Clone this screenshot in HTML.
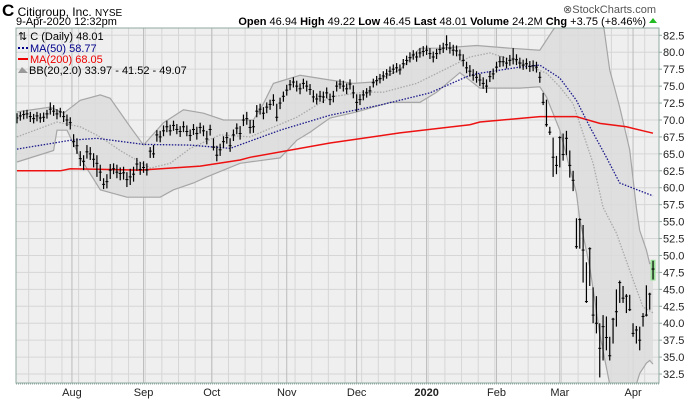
<!DOCTYPE html>
<html><head><meta charset="utf-8"><style>
body{margin:0;background:#fff;width:700px;height:400px;overflow:hidden;font-family:"Liberation Sans",sans-serif}
svg{display:block}
text{font-family:"Liberation Sans",sans-serif}
</style></head><body>
<svg id="chart" width="700" height="400" xmlns="http://www.w3.org/2000/svg">
<rect x="16" y="28" width="643" height="355" fill="#efefef"/>
<g id="grid"></g>
<g id="bands" clip-path="url(#clip)"></g>
<g id="lines" clip-path="url(#clip)"></g>
<g id="bars" clip-path="url(#clip)"></g>
<clipPath id="clip"><rect x="16" y="28" width="643" height="355"/></clipPath>
<rect x="16" y="28" width="643" height="355" fill="none" stroke="#8fa89f" stroke-width="1"/>
<line x1="16" y1="384" x2="659" y2="384" stroke="#8fa89f" stroke-dasharray="1,1"/>
<g id="yaxis"></g>
<g id="xaxis"></g>
<text x="2" y="16" font-size="12"><tspan font-size="17" font-weight="bold">C</tspan> Citigroup, Inc. <tspan font-size="10">NYSE</tspan></text>
<text x="16" y="25" font-size="11">9-Apr-2020 12:32pm</text>
<text x="656" y="13" font-size="11" fill="#555" text-anchor="end">⊗StockCharts.com</text>
<text x="646" y="25" font-size="11" text-anchor="end"><tspan font-weight="bold">Open</tspan> 46.94 <tspan font-weight="bold">High</tspan> 49.22 <tspan font-weight="bold">Low</tspan> 46.45 <tspan font-weight="bold">Last</tspan> 48.01 <tspan font-weight="bold">Volume</tspan> 24.2M <tspan font-weight="bold">Chg</tspan> +3.75 (+8.46%)</text>
<polygon points="649,23 657,23 653,18" fill="#22bb22"/>
<g font-size="11">
<text x="18" y="40">⇅ C (Daily) 48.01</text>
<line x1="18" y1="48" x2="28" y2="48" stroke="#00008b" stroke-width="2" stroke-dasharray="2,2"/>
<text x="30" y="52" fill="#00008b">MA(50) 58.77</text>
<line x1="18" y1="59" x2="28" y2="59" stroke="#e00" stroke-width="2"/>
<text x="30" y="63" fill="#e00">MA(200) 68.05</text>
<polygon points="18,73 22,67 25,70 28,73" fill="#999"/>
<text x="29" y="74">BB(20,2.0) 33.97 - 41.52 - 49.07</text>
</g>
</svg>
<script>
const closes=[70.3,70.6,70.8,70.9,70.5,70.2,70.6,70.3,70.4,70.9,71.6,71.3,70.9,71.2,70.5,70.0,69.6,
66.8,66.2,64.3,63.9,65.3,65.0,64.2,63.6,62.3,60.5,60.9,62.6,62.8,62.3,62.1,62.2,61.2,61.6,62.0,63.5,62.7,
63.0,62.6,65.4,65.0,67.8,67.5,68.4,69.0,68.4,69.2,68.6,68.3,69.0,68.3,67.7,68.6,68.0,68.9,68.4,67.2,68.6,
66.0,64.8,65.6,66.8,67.4,66.2,67.8,68.8,68.0,70.0,70.2,68.9,69.0,71.3,71.6,71.0,71.9,72.3,72.9,70.4,72.5,73.5,
74.4,75.2,75.6,75.0,74.6,75.4,75.0,74.5,73.4,73.1,73.5,73.4,74.0,73.0,73.5,75.0,75.3,75.0,74.6,75.3,74.0,
72.6,73.0,73.7,74.0,74.3,75.5,75.8,76.1,76.5,76.8,77.2,77.5,77.7,77.4,78.3,78.8,79.2,79.6,79.3,79.9,80.1,
80.3,79.8,79.3,79.8,80.4,80.6,81.1,80.6,80.3,80.2,79.6,78.8,77.7,77.2,76.6,76.3,75.9,75.4,75.0,76.4,76.8,
77.8,78.6,78.6,78.4,78.8,79.0,78.9,78.4,78.1,78.3,77.9,78.0,77.8,76.3,72.6,69.3,68.2,64.5,63.3,
67.4,64.9,67.3,63.3,61.1,
51.3,55.3,50.8,43.2,51.0,41.2,40.0,36.3,39.5,37.9,35.2,40.6,41.7,46.0,43.7,44.0,42.0,38.5,39.0,37.5,41.0,41.2,44.3,48.0];
const highs=[71.0,71.2,71.4,71.5,71.2,70.9,71.2,71.0,71.1,71.5,72.6,72.2,71.6,71.8,71.3,70.8,70.4,
67.9,67.3,65.4,64.8,66.3,66.0,65.1,64.8,63.4,61.4,62.0,63.5,63.6,63.4,63.0,63.1,62.3,62.8,63.1,64.4,63.8,
63.9,63.6,66.0,66.3,68.5,68.4,69.2,69.9,69.3,69.9,69.4,69.1,69.8,69.2,68.6,69.4,69.0,69.6,69.2,68.4,69.3,
67.3,66.2,66.5,67.6,68.2,67.3,68.6,69.5,69.1,70.8,71.2,70.0,70.0,72.2,72.4,71.9,72.6,73.0,73.8,72.4,73.3,74.2,
75.2,75.9,76.3,75.8,75.4,76.1,75.8,75.3,74.4,73.9,74.3,74.2,74.8,73.9,74.3,75.7,76.0,75.8,75.4,76.0,75.1,
73.8,73.8,74.4,74.7,75.0,76.1,76.5,76.8,77.2,77.5,77.9,78.2,78.4,78.2,79.0,79.5,80.0,80.3,80.1,80.6,80.9,
81.0,80.6,80.1,80.5,81.1,81.4,82.5,81.5,81.1,81.0,80.4,79.7,78.6,78.1,77.5,77.2,76.8,76.3,76.0,77.2,77.6,
78.6,79.4,79.4,79.2,79.6,80.6,79.7,79.2,78.9,79.1,78.7,78.8,78.6,77.1,74.0,73.0,69.0,67.4,64.7,
67.6,68.0,68.4,65.5,62.5,
55.5,55.5,54.5,49.0,51.2,45.3,44.0,40.0,41.2,41.0,38.0,40.8,45.0,46.3,45.5,44.3,44.2,40.0,39.6,39.5,41.5,45.6,44.5,49.22];
const lows=[69.5,69.9,70.1,70.2,69.7,69.5,69.8,69.6,69.7,70.2,70.8,70.6,70.1,70.4,69.7,69.1,68.6,
66.0,65.0,63.2,62.6,64.3,64.1,63.0,61.6,61.0,59.8,59.9,61.3,62.0,61.4,61.1,61.2,60.1,60.4,60.9,62.5,61.9,
62.2,61.8,64.4,64.4,66.8,66.7,67.6,68.2,67.7,68.4,67.9,67.5,68.2,67.6,66.9,67.8,67.1,68.0,67.6,66.4,67.7,
65.5,63.9,64.7,65.9,66.5,65.3,66.9,67.9,67.1,69.1,69.3,68.0,68.1,70.4,70.8,70.1,71.0,71.5,72.1,69.8,71.6,72.7,
73.6,74.4,74.8,74.2,73.8,74.6,74.2,73.7,72.6,72.3,72.7,72.5,73.2,72.2,72.6,74.2,74.6,74.2,73.8,74.5,73.2,
71.2,72.2,72.9,73.3,73.6,74.8,75.1,75.4,75.8,76.1,76.5,76.8,77.0,76.7,77.6,78.1,78.5,78.9,78.6,79.2,79.4,
79.6,79.0,78.5,79.0,79.7,79.9,80.3,79.8,79.5,79.4,78.8,77.9,76.9,76.4,75.8,75.5,75.0,74.6,74.0,75.6,76.0,
77.0,77.8,77.9,77.6,78.0,78.2,78.1,77.6,77.4,77.5,77.1,77.2,77.0,75.5,72.2,69.0,67.8,61.6,62.0,
63.0,64.0,64.8,61.5,59.5,
51.0,51.0,46.0,43.0,45.5,40.0,38.5,32.0,34.5,36.0,34.5,37.0,39.5,43.0,43.0,41.5,41.8,38.0,37.0,36.0,39.5,41.0,42.0,46.45];
const ma50Idx=[0,16,24,38,52,64,79,94,109,124,136,139,151,157,163,168,172,177,181,191];
const ma50Val=[65.7,67.0,67.3,66.4,66.3,65.8,68.5,70.7,72.2,74.0,76.6,76.9,77.8,78.1,76.2,72.9,69.0,64.5,60.7,58.8];
const ma200Idx=[0,13,16,37,55,67,70,94,115,136,139,157,168,175,183,191];
const ma200Val=[62.5,62.5,62.8,62.6,63.2,64.1,64.5,66.6,68.1,69.3,69.7,70.5,70.5,69.5,69.0,68.05];
const bbMidIdx=[0,12,19,25,31,40,46,52,61,70,84,94,104,110,120,136,142,151,159,163,167,170,173,176,180,185,188,191];
const bbMidVal=[67.5,69.7,69.0,67.5,65.5,62.9,63.6,65.8,67.8,67.5,70.4,73.4,74.1,74.1,75.4,79.3,79.9,78.5,76.9,74.9,72.4,68.0,63.6,57.1,53.3,46.4,42.4,41.52];
const bbUpIdx=[0,10,14,19,25,28,34,38,44,50,56,62,71,74,77,85,94,101,107,115,121,127,138,148,157,161,163,170,175,178,181,184,186,187,189,190,191];
const bbUpVal=[71.2,71.9,71.0,72.9,73.7,73.2,69.0,66.3,69.6,71.5,71.0,70.0,70.0,72.4,75.4,76.6,75.9,75.4,75.6,77.4,80.6,80.6,81.0,80.6,80.3,83.3,84.5,88,88,77.4,71.9,65.6,57.0,53.7,50.8,48.8,49.07];
const bbLoIdx=[0,11,12,15,19,25,33,43,47,53,57,67,79,84,88,94,102,112,121,126,133,139,151,157,159,163,168,169,172,175,178,186,187,189,190,191];
const bbLoVal=[63.8,65.5,68.5,68.5,64.4,59.7,58.6,58.6,59.7,60.7,61.6,63.6,64.4,67.0,68.2,70.3,71.2,72.6,72.6,74.1,77.0,74.7,74.7,74.9,73.4,68.5,59.2,55.3,48.3,38.4,31,31,32.6,34.1,34.5,33.97];
const yTicks=[32.5,35.0,37.5,40.0,42.5,45.0,47.5,50.0,52.5,55.0,57.5,60.0,62.5,65.0,67.5,70.0,72.5,75.0,77.5,80.0,82.5];
const monthLabels=["Aug","Sep","Oct","Nov","Dec","2020","Feb","Mar","Apr"];
const monthIdx=[16.5,38,58.5,81,102,123,144,163,185];

const NS="http://www.w3.org/2000/svg";
const X=i=>17+3.33*i;
const Y=p=>35.3+(82.5-p)*6.775;
function mk(tag,attrs,parent){const e=document.createElementNS(NS,tag);for(const k in attrs)e.setAttribute(k,attrs[k]);parent.appendChild(e);return e;}
const grid=document.getElementById('grid'),bands=document.getElementById('bands'),lines=document.getElementById('lines'),bars=document.getElementById('bars'),yaxis=document.getElementById('yaxis'),xaxis=document.getElementById('xaxis');
yTicks.forEach(t=>{
  const l=mk('line',{x1:16,x2:659,y1:Y(t),y2:Y(t),stroke:'#d6d6d6','stroke-width':1},grid);
  
  
  const tk=mk('line',{x1:659,x2:662,y1:Y(t),y2:Y(t),stroke:'#8fa89f'},yaxis);
  
  
  const tx=mk('text',{x:663,y:Y(t)+4,'font-size':11,fill:'#222'},yaxis);
  tx.textContent=t.toFixed(1);
  
  
});
for(let i=3.5;i<192;i+=5){
  const l=mk('line',{x1:X(i),x2:X(i),y1:28,y2:383,stroke:'#d6d6d6'},grid);
  
  
}
monthIdx.forEach((m,k)=>{
  const l=mk('line',{x1:X(m),x2:X(m),y1:28,y2:383,stroke:'#bcbcbc'},grid);
  
  
  const tx=mk('text',{x:X(m),y:396,'font-size':11,'text-anchor':'middle',fill:'#222','font-weight':monthLabels[k]==='2020'?'bold':'normal'},xaxis);
  tx.textContent=monthLabels[k];
  
  
});
const pts=(idx,val)=>idx.map((d,k)=>X(d).toFixed(1)+','+Y(val[k]).toFixed(1));
const up=pts(bbUpIdx,bbUpVal),lo=pts(bbLoIdx,bbLoVal).reverse();
const band=mk('polygon',{points:up.concat(lo).join(' '),fill:'#dcdcdc','fill-opacity':0.85,stroke:'none'},bands);


const bu=mk('polyline',{points:up.join(' '),fill:'none',stroke:'#a6a6a6','stroke-width':1.2},bands);


const bl=mk('polyline',{points:pts(bbLoIdx,bbLoVal).join(' '),fill:'none',stroke:'#a6a6a6','stroke-width':1.2},bands);


const bm=mk('polyline',{points:pts(bbMidIdx,bbMidVal).join(' '),fill:'none',stroke:'#aaaaaa','stroke-width':1.3,'stroke-dasharray':'1.5,1.5'},lines);


const m2=mk('polyline',{points:pts(ma200Idx,ma200Val).join(' '),fill:'none',stroke:'#ee1111','stroke-width':1.5},lines);


const m5=mk('polyline',{points:pts(ma50Idx,ma50Val).join(' '),fill:'none',stroke:'#1a1a8c','stroke-width':1.3,'stroke-dasharray':'1.5,1.5'},lines);


const last=closes.length-1;
const hl=mk('rect',{x:X(last)-2.5,y:Y(highs[last])-1,width:5,height:Y(lows[last])-Y(highs[last])+2,fill:'#9be39b'},bars);


closes.forEach((c,i)=>{
  const g=mk('g',{},bars);
  
  
  mk('line',{x1:X(i),x2:X(i),y1:Y(highs[i]),y2:Y(lows[i]),stroke:'#000','stroke-width':1.2},g);
  mk('line',{x1:X(i)-1.5,x2:X(i)+1.5,y1:Y(c),y2:Y(c),stroke:'#000','stroke-width':1},g);
});
</script>
</body></html>
